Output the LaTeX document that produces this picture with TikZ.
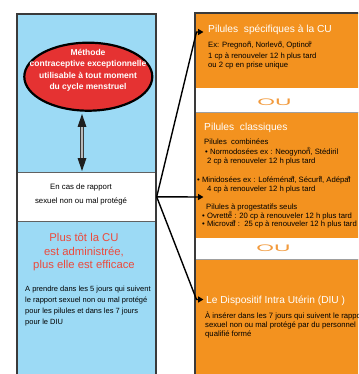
\documentclass[tikz,border=0pt]{standalone}
\usepackage{fontspec}
\setmainfont{Liberation Sans}
\usetikzlibrary{arrows.meta,shapes.geometric}
\definecolor{skyb}{HTML}{9CDAF5}
\definecolor{orng}{HTML}{F3921F}
\definecolor{redf}{HTML}{E53232}
\definecolor{redt}{HTML}{EC4A3C}
\definecolor{ouc}{HTML}{F29A3C}
\definecolor{edgec}{HTML}{3A3A3A}
\newcommand\regmark{\llap{\raisebox{0.8ex}{\fontsize{4.5}{4.5}\selectfont ®}}}
\begin{document}
\begin{tikzpicture}[x=1pt,y=-1pt,
 small/.style={font=\fontsize{7.7}{9}\selectfont, anchor=base west, inner sep=0pt, text=black},
 ttl/.style={font=\fontsize{10.2}{12}\selectfont, anchor=base west, inner sep=0pt, text=white},
 conn/.style={line width=1.4pt, -{Triangle[length=5.5pt,width=6pt]}},
 ouword/.style={font=\fontsize{9.5}{10}\selectfont, text=ouc, inner sep=0pt}]
\useasboundingbox (0,0) rectangle (358,374);
\fill[white] (0,0) rectangle (358,374);
\begin{scope}
\clip (0,0) rectangle (358,374);
% ---------- left panel ----------
\fill[skyb] (17,14) rectangle (156,172);
\fill[skyb] (17,221) rectangle (156,380);
\node[draw=edgec!80, line width=0.7pt, fill=white, minimum width=139pt, minimum height=49pt, inner sep=0pt, anchor=north west] (casbox) at (17,172) {};
\draw[edgec, line width=1.5pt] (17,380) -- (17,14) -- (156,14) -- (156,380);
\node[ellipse, draw=black, line width=2.2pt, fill=redf, minimum width=128pt, minimum height=68pt, inner sep=0pt] (meth) at (88.3,76.7) {};
\node[font=\bfseries\fontsize{8.5}{11.5}\selectfont, text=white, align=center, inner sep=0pt] (methtxt) at (88,70.5) {Méthode\\contraceptive exceptionnelle\\utilisable à tout moment\\du cycle menstruel};
% double arrow
\coordinate (dA) at (82,114);
\coordinate (dB) at (82,171);
\draw[edgec, line width=3.4pt, shorten <=11pt, shorten >=11pt] (dA) -- (dB);
\draw[gray!55, line width=1.4pt, shorten <=11pt, shorten >=11pt] (dA) -- (dB);
\fill[black!88] (dA) -- ++(-4.5,13) -- ++(9,0) -- cycle;
\fill[black!88] (dB) -- ++(-4.5,-13) -- ++(9,0) -- cycle;
\node[font=\fontsize{7.8}{14}\selectfont, align=center, inner sep=0pt] (castxt) at (81,194.8) {En cas de rapport\\sexuel non ou mal protégé};
\node[font=\fontsize{11.3}{13.4}\selectfont, text=redt, align=center, inner sep=0pt] (soon) at (84,252.3) {Plus tôt la CU\\est administrée,\\plus elle est efficace};
\node[font=\fontsize{7.5}{11}\selectfont, align=left, anchor=north west, inner sep=0pt] (delai) at (25,286) {A prendre dans les 5 jours qui suivent\\le rapport sexuel non ou mal protégé\\pour les pilules et dans les 7 jours\\pour le DIU};
% ---------- right panel ----------
\fill[orng] (195,13) rectangle (365,88);
\fill[orng] (195,112) rectangle (365,238);
\fill[orng] (195,259) rectangle (365,380);
\draw[gray!75, line width=0.6pt] (195,112) -- (365,112);
\draw[gray!75, line width=0.6pt] (195,259) -- (365,259);
\draw[edgec, line width=1.5pt] (195,380) -- (195,13) -- (365,13);
\node[ouword] (ou1) at (274.5,102.5) {\scalebox{2.4}[1]{OU}};
\node[ouword] (ou2) at (273.5,248) {\scalebox{2.4}[1]{OU}};
% section 1
\node[ttl] (t1) at (208,32.8) {Pilules\ \ spécifiques à la CU};
\node[small] (s1a) at (208,47.5) {Ex: Pregnon\regmark, Norlevo\regmark, Optinor\regmark};
\node[small] (s1b) at (208,58.5) {1 cp à renouveler 12 h plus tard};
\node[small] (s1c) at (208,67.8) {ou 2 cp en prise unique};
% section 2
\node[ttl] (t2) at (204,130.2) {Pilules\ \ classiques};
\node[small] (s2a) at (204,144.8) {Pilules\ \ combinées};
\node[small] (s2b) at (205,154.2) {• Normodosées ex : Neogynon\regmark, Stédiril};
\node[small] (s2c) at (207,163.3) {2 cp à renouveler 12 h plus tard};
\node[small] (s2d) at (197,182.5) {• Minidosées ex : Loféménal\regmark, Sécuril\regmark, Adépal\regmark};
\node[small] (s2e) at (207,191.5) {4 cp à renouveler 12 h plus tard};
\node[small] (s2f) at (206,209.2) {Pilules à progestatifs seuls};
\node[small] (s2g) at (202,218.2) {• Ovrette\regmark\ : 20 cp à renouveler 12 h plus tard};
\node[small] (s2h) at (202,226.5) {• Microval\regmark\ :\ \ 25 cp à renouveler 12 h plus tard};
% section 3
\node[ttl] (t3) at (206,303.5) {Le Dispositif Intra Utérin (DIU )};
\node[small] (s3a) at (205,318.5) {À insérer dans les 7 jours qui suivent le rapport};
\node[small] (s3b) at (205,327.5) {sexuel non ou mal protégé par du personnel};
\node[small] (s3c) at (205,336.5) {qualifié formé};
% connectors
\coordinate (k1) at (196.5,32);
\coordinate (a1) at (203.5,32);
\coordinate (a2) at (203.5,197);
\coordinate (k3) at (196.5,299.5);
\coordinate (a3) at (203.5,299.5);
\draw[conn] (casbox.east) -- (k1) -- (a1);
\draw[conn] (casbox.east) -- (a2);
\draw[conn] (casbox.east) -- (k3) -- (a3);
\end{scope}
\end{tikzpicture}
\end{document}
